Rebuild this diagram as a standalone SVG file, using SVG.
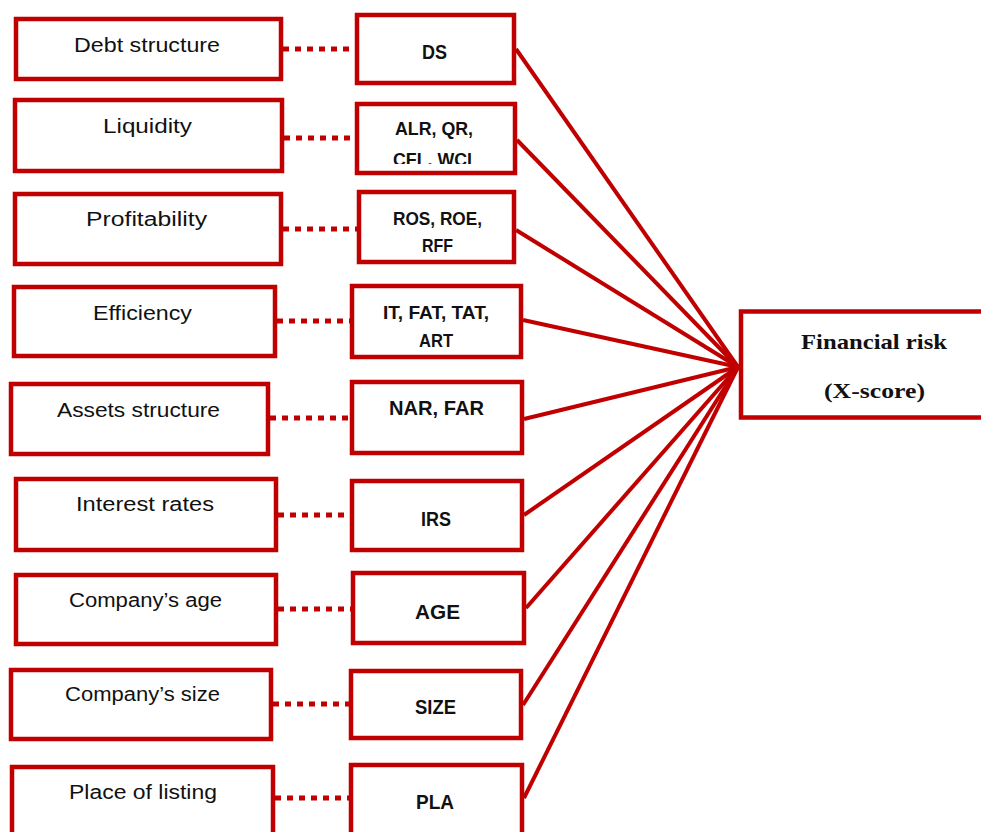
<svg xmlns="http://www.w3.org/2000/svg" width="981" height="832" viewBox="0 0 981 832">
<defs>
<style>
.box{fill:#fff;stroke:#c00000;stroke-width:4.5}
.dot{stroke:#c00000;stroke-width:5;stroke-dasharray:6 6;fill:none}
.ln{stroke:#c00000;stroke-width:4;fill:none}
.lt{font-family:"Liberation Sans",Arial,sans-serif;font-size:20px;fill:#111}
.rt{font-family:"Liberation Sans",Arial,sans-serif;font-size:18px;font-weight:bold;fill:#111}
.rt2{font-family:"Liberation Sans",Arial,sans-serif;font-size:20px;font-weight:bold;fill:#111}
.ft{font-family:"Liberation Serif","Times New Roman",serif;font-size:21px;font-weight:bold;fill:#111}
</style>
<clipPath id="clipLiq"><rect x="357" y="104" width="158" height="60"/></clipPath>
</defs>
<rect width="981" height="832" fill="#fff"/>
<g id="connectors">
<line class="dot" x1="283" y1="49" x2="356" y2="49"/>
<line class="dot" x1="284" y1="138" x2="356" y2="138"/>
<line class="dot" x1="283" y1="229" x2="358" y2="229"/>
<line class="dot" x1="277" y1="321" x2="351" y2="321"/>
<line class="dot" x1="270" y1="418" x2="350" y2="418"/>
<line class="dot" x1="278" y1="515" x2="350" y2="515"/>
<line class="dot" x1="278" y1="609" x2="351" y2="609"/>
<line class="dot" x1="273" y1="704" x2="349" y2="704"/>
<line class="dot" x1="275" y1="798" x2="349" y2="798"/>
<line class="ln" x1="516" y1="49" x2="738" y2="367"/>
<line class="ln" x1="517" y1="140" x2="738" y2="367"/>
<line class="ln" x1="516" y1="230" x2="738" y2="367"/>
<line class="ln" x1="523" y1="320" x2="738" y2="367"/>
<line class="ln" x1="524" y1="419" x2="738" y2="367"/>
<line class="ln" x1="524" y1="515" x2="738" y2="367"/>
<line class="ln" x1="526" y1="608" x2="738" y2="367"/>
<line class="ln" x1="523" y1="705" x2="738" y2="367"/>
<line class="ln" x1="524" y1="798" x2="738" y2="367"/>
</g>
<g id="n-debt"><rect class="box" x="16" y="19" width="265" height="60"/><text class="lt" x="74" y="52" textLength="146" lengthAdjust="spacingAndGlyphs">Debt structure</text></g>
<g id="n-liq"><rect class="box" x="15" y="100" width="267" height="71"/><text class="lt" x="103" y="133" textLength="89" lengthAdjust="spacingAndGlyphs">Liquidity</text></g>
<g id="n-prof"><rect class="box" x="15" y="194" width="266" height="70"/><text class="lt" x="86" y="226" textLength="121" lengthAdjust="spacingAndGlyphs">Profitability</text></g>
<g id="n-eff"><rect class="box" x="14" y="287" width="261" height="69"/><text class="lt" x="93" y="320" textLength="99" lengthAdjust="spacingAndGlyphs">Efficiency</text></g>
<g id="n-assets"><rect class="box" x="11" y="384" width="257" height="70"/><text class="lt" x="57" y="417" textLength="163" lengthAdjust="spacingAndGlyphs">Assets structure</text></g>
<g id="n-int"><rect class="box" x="16" y="479" width="260" height="71"/><text class="lt" x="76" y="511" textLength="138" lengthAdjust="spacingAndGlyphs">Interest rates</text></g>
<g id="n-age"><rect class="box" x="16" y="575" width="260" height="69"/><text class="lt" x="69" y="607" textLength="153" lengthAdjust="spacingAndGlyphs">Company’s age</text></g>
<g id="n-size"><rect class="box" x="11" y="670" width="260" height="69"/><text class="lt" x="65" y="701" textLength="155" lengthAdjust="spacingAndGlyphs">Company’s size</text></g>
<g id="n-place"><rect class="box" x="12" y="767" width="261" height="80"/><text class="lt" x="69" y="799" textLength="148" lengthAdjust="spacingAndGlyphs">Place of listing</text></g>
<g id="v-ds"><rect class="box" x="357" y="15" width="157" height="68"/><text class="rt2" x="422" y="59" textLength="25" lengthAdjust="spacingAndGlyphs">DS</text></g>
<g id="v-liq"><rect class="box" x="357" y="104" width="158" height="69"/><g clip-path="url(#clipLiq)"><text class="rt" x="395" y="135" textLength="78" lengthAdjust="spacingAndGlyphs">ALR, QR,</text><text class="rt" x="393" y="166" textLength="79" lengthAdjust="spacingAndGlyphs">CFL, WCI</text></g></g>
<g id="v-prof"><rect class="box" x="359" y="192" width="155" height="70"/><text class="rt" x="393" y="225" textLength="89" lengthAdjust="spacingAndGlyphs">ROS, ROE,</text><text class="rt" x="422" y="252" textLength="31" lengthAdjust="spacingAndGlyphs">RFF</text></g>
<g id="v-eff"><rect class="box" x="352" y="286" width="169" height="71"/><text class="rt" x="383" y="319" textLength="106" lengthAdjust="spacingAndGlyphs">IT,  FAT, TAT,</text><text class="rt" x="419" y="347" textLength="34" lengthAdjust="spacingAndGlyphs">ART</text></g>
<g id="v-assets"><rect class="box" x="352" y="382" width="170" height="71"/><text class="rt2" x="389" y="415" textLength="95" lengthAdjust="spacingAndGlyphs" style="font-size:21px">NAR, FAR</text></g>
<g id="v-irs"><rect class="box" x="352" y="481" width="170" height="69"/><text class="rt2" x="421" y="526" textLength="30" lengthAdjust="spacingAndGlyphs">IRS</text></g>
<g id="v-age"><rect class="box" x="353" y="573" width="171" height="70"/><text class="rt2" x="415" y="619" textLength="45" lengthAdjust="spacingAndGlyphs">AGE</text></g>
<g id="v-size"><rect class="box" x="351" y="671" width="170" height="67"/><text class="rt2" x="415" y="714" textLength="41" lengthAdjust="spacingAndGlyphs">SIZE</text></g>
<g id="v-pla"><rect class="box" x="351" y="765" width="171" height="80"/><text class="rt2" x="416" y="809" textLength="38" lengthAdjust="spacingAndGlyphs">PLA</text></g>
<g id="n-risk"><rect class="box" x="741" y="311.5" width="300" height="106"/><text class="ft" x="801" y="349" textLength="146" lengthAdjust="spacingAndGlyphs">Financial risk</text><text class="ft" x="824" y="398" textLength="101" lengthAdjust="spacingAndGlyphs">(X-score)</text></g>
</svg>
